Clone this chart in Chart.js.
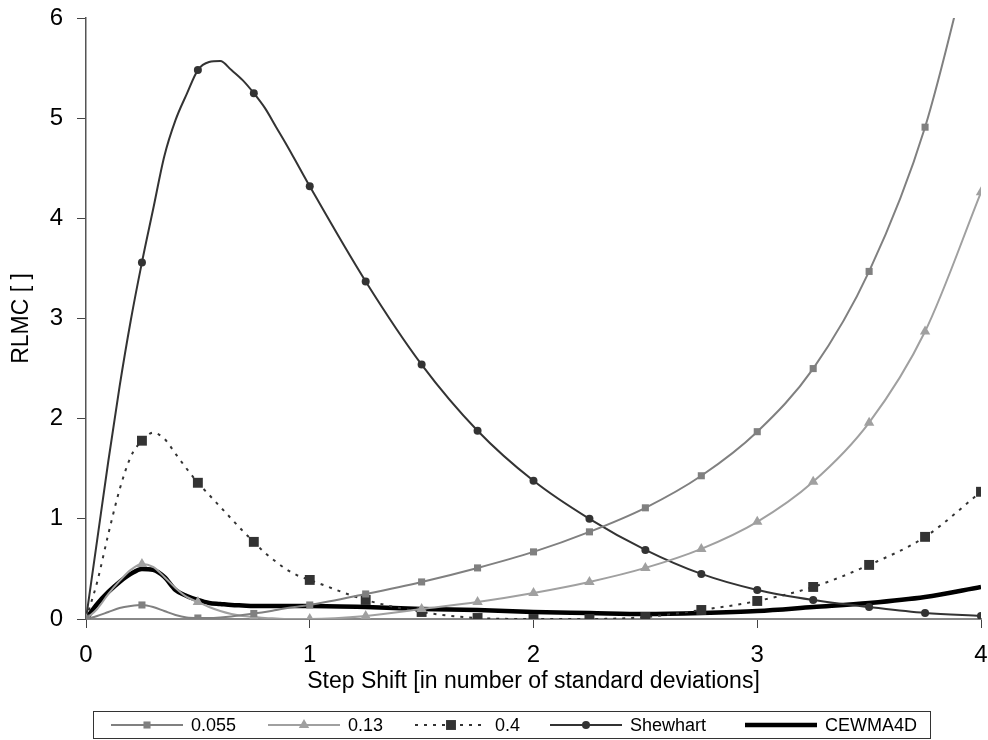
<!DOCTYPE html>
<html>
<head>
<meta charset="utf-8">
<script src="https://cdn.jsdelivr.net/npm/chart.js@4.4.1/dist/chart.umd.min.js"></script>
<style>
    html, body { margin: 0; padding: 0; background: #fff; }
    #rlmc { display: block; }
</style>
</head>
<body>
<canvas id="rlmc" width="988" height="740"></canvas>
<script>
const FONT = "'Liberation Sans', Arial, sans-serif";

// step shift (in standard deviations); fine steps up to 1, then quarter steps
const shifts = [0, 0.05, 0.1, 0.15, 0.2, 0.25, 0.3, 0.35, 0.4, 0.45, 0.5, 0.55, 0.6, 0.65, 0.7, 0.75, 0.8, 0.85, 0.9, 0.95, 1,
    1.25, 1.5, 1.75, 2, 2.25, 2.5, 2.75, 3, 3.25, 3.5, 3.75, 4];

const ewma055 = [0, 0.03, 0.07, 0.11, 0.13, 0.14, 0.12, 0.08, 0.04, 0.015, 0.01, 0.01, 0.015, 0.025, 0.04, 0.055, 0.07, 0.09, 0.11, 0.125, 0.14,
    0.25, 0.37, 0.51, 0.67, 0.87, 1.11, 1.43, 1.87, 2.5, 3.47, 4.91, 7.1];
const ewma013 = [0, 0.1, 0.25, 0.38, 0.49, 0.55, 0.52, 0.42, 0.31, 0.22, 0.17, 0.12, 0.08, 0.05, 0.03, 0.02, 0.01, 0.005, 0, 0, 0,
    0.03, 0.1, 0.17, 0.26, 0.37, 0.51, 0.7, 0.97, 1.37, 1.96, 2.87, 4.26];
const ewma04 = [0, 0.37, 0.85, 1.29, 1.62, 1.78, 1.86, 1.8, 1.65, 1.5, 1.36, 1.24, 1.12, 1.0, 0.88, 0.77, 0.66, 0.57, 0.49, 0.43, 0.39,
    0.19, 0.07, 0.01, 0, 0, 0.02, 0.09, 0.18, 0.32, 0.54, 0.82, 1.27];
const shewhart = [0, 0.79, 1.58, 2.32, 2.98, 3.56, 4.09, 4.62, 4.98, 5.24, 5.48, 5.56, 5.57, 5.48, 5.38, 5.25, 5.1, 4.91, 4.72, 4.52, 4.32,
    3.37, 2.54, 1.88, 1.38, 1.0, 0.69, 0.45, 0.29, 0.19, 0.12, 0.06, 0.03];
const cewma4d = [0, 0.15, 0.27, 0.37, 0.45, 0.5, 0.49, 0.42, 0.29, 0.23, 0.19, 0.16, 0.15, 0.14, 0.135, 0.13, 0.13, 0.13, 0.13, 0.13, 0.13,
    0.12, 0.1, 0.09, 0.07, 0.06, 0.05, 0.06, 0.08, 0.12, 0.16, 0.22, 0.32];

const seriesNames = ['0.055', '0.13', '0.4', 'Shewhart', 'CEWMA4D'];
const xTicks = [0, 1, 2, 3, 4];
const yTicks = [0, 1, 2, 3, 4, 5, 6];

const xTitle = 'Step Shift [in number of standard deviations]';
const yTitle = 'RLMC [ ]';

const toPoints = (ys) => ys.map((y, i) => ({ x: shifts[i], y: y }));

// markers only on the quarter steps
const markerAt = (r) => (c) => {
    const q = shifts[c.dataIndex] * 4;
    return Math.abs(q - Math.round(q)) < 1e-6 ? r : 0;
};

const makeSet = (label, ys, color, width, style, r, dash) => ({
    label: label,
    data: toPoints(ys),
    borderColor: color,
    backgroundColor: color,
    borderWidth: width,
    borderDash: dash || [],
    pointStyle: style || false,
    pointRadius: style ? markerAt(r) : 0,
    pointBorderWidth: 0,
    pointBackgroundColor: color,
    markerRadius: r,
    cubicInterpolationMode: 'monotone',
});

const datasets = [
    makeSet(seriesNames[0], ewma055, '#808080', 2, 'rect', 5),
    makeSet(seriesNames[1], ewma013, '#a0a0a0', 2, 'triangle', 6),
    makeSet(seriesNames[2], ewma04, '#333333', 2, 'rect', 7, [3, 6]),
    makeSet(seriesNames[3], shewhart, '#333333', 2, 'circle', 4),
    makeSet(seriesNames[4], cewma4d, '#000000', 4.5, null, 0),
];

// axis titles and the boxed legend under the plot
const frame = {
    id: 'frame',
    afterDraw(chart) {
        const { ctx, chartArea: { left, right, top, bottom } } = chart;
        ctx.save();
        ctx.fillStyle = '#000';

        ctx.font = '23px ' + FONT;
        ctx.textAlign = 'center';
        ctx.textBaseline = 'middle';
        ctx.fillText(xTitle, (left + right) / 2, 682);

        ctx.save();
        ctx.translate(22, (top + bottom) / 2);
        ctx.rotate(-Math.PI / 2);
        ctx.fillText(yTitle, 0, 0);
        ctx.restore();

        // legend box
        ctx.strokeStyle = '#333';
        ctx.lineWidth = 1;
        ctx.strokeRect(93.5, 711.5, 837, 27);

        const starts = [111, 268, 415, 550, 745];
        const ly = 725;
        ctx.font = '18px ' + FONT;
        ctx.textAlign = 'left';
        chart.data.datasets.forEach((ds, i) => {
            const x0 = starts[i], x1 = x0 + 72;
            ctx.save();
            ctx.strokeStyle = ds.borderColor;
            ctx.lineWidth = ds.borderWidth;
            ctx.setLineDash(ds.borderDash);
            ctx.beginPath();
            ctx.moveTo(x0, ly);
            ctx.lineTo(x1, ly);
            ctx.stroke();
            ctx.restore();
            if (ds.pointStyle) {
                ctx.fillStyle = ds.borderColor;
                Chart.helpers.drawPoint(ctx, {
                    pointStyle: ds.pointStyle,
                    radius: ds.markerRadius,
                    rotation: 0,
                    borderWidth: 0
                }, (x0 + x1) / 2, ly);
            }
            ctx.fillStyle = '#000';
            ctx.fillText(ds.label, x1 + 8, ly + 1);
        });
        ctx.restore();
    }
};

const config = {
    type: 'line',
    data: { datasets: datasets },
    options: {
        responsive: false,
        devicePixelRatio: 1,
        animation: false,
        events: [],
        layout: { padding: { top: 18, right: 4, left: 0, bottom: 0 } },
        plugins: {
            legend: { display: false },
            tooltip: { enabled: false }
        },
        scales: {
            x: {
                type: 'linear',
                min: 0,
                max: 4,
                afterBuildTicks: (s) => { s.ticks = xTicks.map(v => ({ value: v })); },
                afterFit: (s) => { s.height = 121; s.paddingLeft = 0; s.paddingRight = 0; },
                border: { color: '#888', width: 2 },
                grid: { drawOnChartArea: false, drawTicks: true, tickLength: 9, color: '#444', lineWidth: 1 },
                ticks: { font: { family: FONT, size: 24 }, color: '#000', padding: 13, maxRotation: 0 }
            },
            y: {
                min: 0,
                max: 6,
                afterBuildTicks: (s) => { s.ticks = yTicks.map(v => ({ value: v })); },
                afterFit: (s) => { s.width = 86; s.paddingTop = 0; s.paddingBottom = 0; },
                border: { color: '#555', width: 1.5 },
                grid: { drawOnChartArea: false, drawTicks: true, tickLength: 9, color: '#444', lineWidth: 1 },
                ticks: { font: { family: FONT, size: 24 }, color: '#000', padding: 14 }
            }
        }
    },
    plugins: [frame]
};

const chart = new Chart(document.getElementById('rlmc'), config);
</script>
</body>
</html>
